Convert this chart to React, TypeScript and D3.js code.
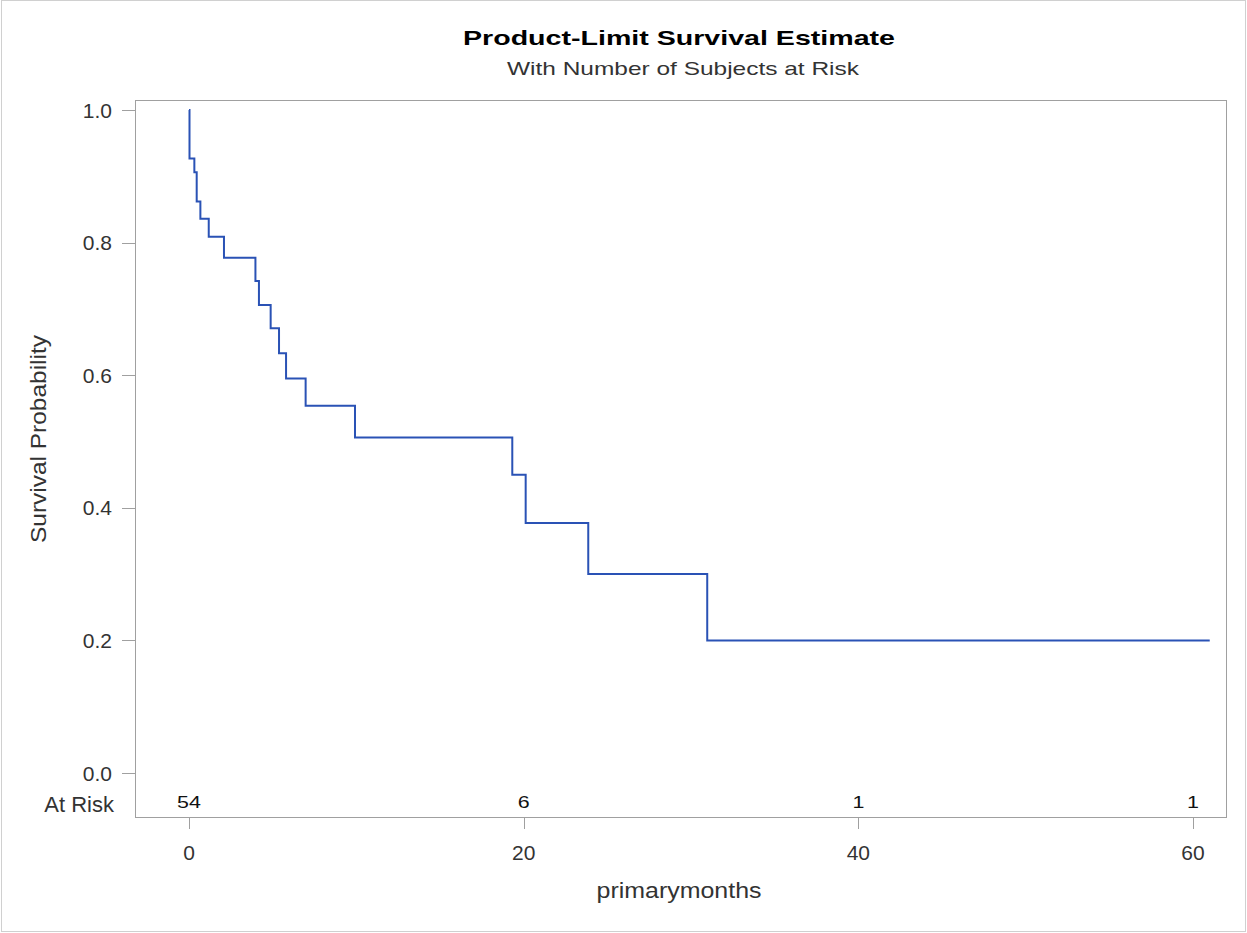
import React from "react";
import * as d3 from "d3";

const times = [0, 0.03, 0.32, 0.46, 0.68, 1.18, 2.09, 3.97, 4.18, 4.88, 5.38, 5.8, 6.97, 9.92, 19.32, 20.12, 23.86, 30.97];
const survival = [1.0, 0.927, 0.906, 0.862, 0.836, 0.809, 0.777, 0.742, 0.706, 0.671, 0.633, 0.595, 0.554, 0.506, 0.45, 0.377, 0.3, 0.2];
const endTime = 61.0;
const xTicks = [0, 20, 40, 60];
const yTicks = [0, 0.2, 0.4, 0.6, 0.8, 1.0];
const atRiskTimes = [0, 20, 40, 60];
const atRiskCounts = [54, 6, 1, 1];

const W = 1247, H = 933;
const frame = { left: 135, right: 1226, top: 100, bottom: 817 };
const FONT = "'Liberation Sans', Arial, sans-serif";

export default function App() {
  const x = d3.scaleLinear().domain([0, 60]).range([189, 1193]);
  const y = d3.scaleLinear().domain([0, 1]).range([773, 110]);
  const pts: [number, number][] = times.map((t, i) => [t, survival[i]]);
  pts.push([endTime, survival[survival.length - 1]]);
  const line = d3.line<[number, number]>().x(d => x(d[0])).y(d => y(d[1])).curve(d3.curveStepAfter);
  const textColor = "#333";
  const axisColor = "#a0a0a0";
  return (
    <svg width={W} height={H} style={{ position: "absolute", left: 0, top: 0 }} fontFamily={FONT}>
      <rect x={0} y={0} width={W} height={H} fill="#fff" />
      <rect x={1.5} y={0.5} width={W - 3} height={H - 2} fill="none" stroke="#d0d0d0" />
      <text x={679} y={45} textAnchor="middle" fontSize={21} fontWeight="bold" fill="#000"
        textLength={432} lengthAdjust="spacingAndGlyphs">Product-Limit Survival Estimate</text>
      <text x={683} y={75} textAnchor="middle" fontSize={19} fill={textColor}
        textLength={352} lengthAdjust="spacingAndGlyphs">With Number of Subjects at Risk</text>
      <rect x={frame.left + 0.5} y={frame.top + 0.5} width={frame.right - frame.left} height={frame.bottom - frame.top} fill="none" stroke={axisColor} />
      {yTicks.map(t => (
        <g key={t}>
          <line x1={frame.left - 13} x2={frame.left} y1={Math.round(y(t)) + 0.5} y2={Math.round(y(t)) + 0.5} stroke={axisColor} />
          <text x={112} y={y(t) + 7.5} textAnchor="end" fontSize={21} fill={textColor}>{t.toFixed(1)}</text>
        </g>
      ))}
      {xTicks.map(t => (
        <g key={t}>
          <line x1={Math.round(x(t)) + 0.5} x2={Math.round(x(t)) + 0.5} y1={frame.bottom} y2={frame.bottom + 12} stroke={axisColor} />
          <text x={x(t)} y={860} textAnchor="middle" fontSize={21} fill={textColor}>{t}</text>
        </g>
      ))}
      <text x={114} y={812} textAnchor="end" fontSize={22} fill={textColor}>At Risk</text>
      {atRiskTimes.map((t, i) => (
        <text key={t} transform={`translate(${x(t)}, 808) scale(1.3, 1)`} textAnchor="middle" fontSize={16.5} fill="#111">{atRiskCounts[i]}</text>
      ))}
      <text x={679} y={898} textAnchor="middle" fontSize={22} fill={textColor}
        textLength={165} lengthAdjust="spacingAndGlyphs">primarymonths</text>
      <text transform={`translate(46, 439) rotate(-90)`} textAnchor="middle" fontSize={22} fill={textColor}
        textLength={208} lengthAdjust="spacingAndGlyphs">Survival Probability</text>
      <path d={line(pts) || ""} fill="none" stroke="#2a52b5" strokeWidth={2} />
    </svg>
  );
}
